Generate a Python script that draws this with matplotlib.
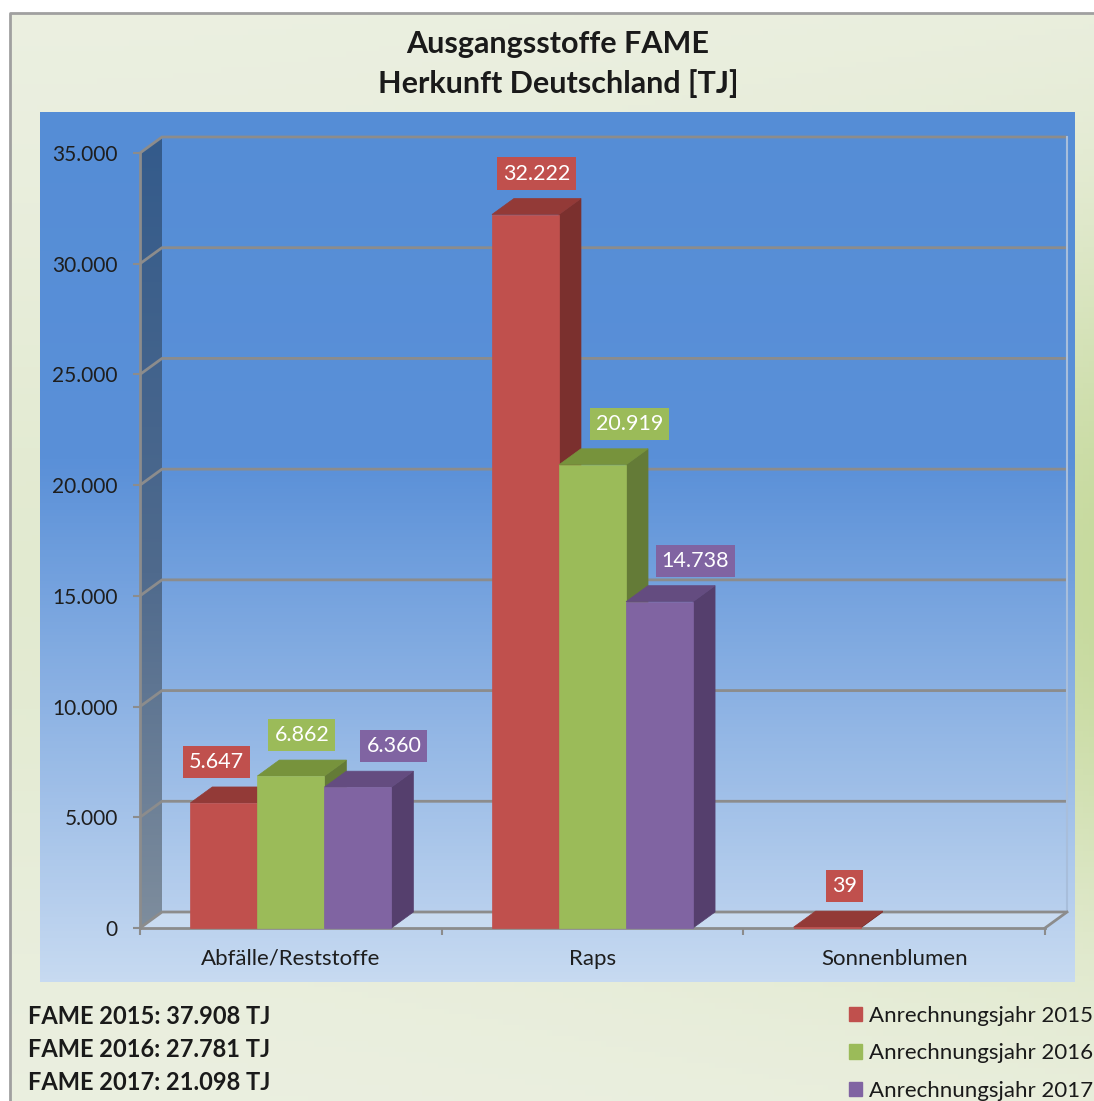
"""Ausgangsstoffe FAME, Herkunft Deutschland - 3D-style clustered columns."""
import matplotlib
matplotlib.use("Agg")
import matplotlib.pyplot as plt
import numpy as np
from matplotlib.colors import LinearSegmentedColormap
from matplotlib.patches import Polygon, Patch

plt.rcParams["font.family"] = ["Lato", "DejaVu Sans"]

CATEGORIES = ["Abfälle/Reststoffe", "Raps", "Sonnenblumen"]
YEARS = ["2015", "2016", "2017"]
V2015 = [5647, 32222, 39]
V2016 = [6862, 20919, None]
V2017 = [6360, 14738, None]
Y_TICKS = [0, 5000, 10000, 15000, 20000, 25000, 30000, 35000]
TITLE = "Ausgangsstoffe FAME\nHerkunft Deutschland [TJ]"

# front / side / top colour per series
FRONT = ["#c0504d", "#9bbb59", "#8064a2"]
SIDE = ["#7b302e", "#647b37", "#553f6d"]
TOP = ["#933a37", "#77933c", "#644c80"]
# horizontal nudge of the value boxes (px), as Excel placed them
LABEL_SHIFT = [[-18, 0, 6], [0, 26, 0], [25, 25, 0]]

GRID = "#8c8c8c"
W, H = 1094, 1101
DEPTH = (22, 16)  # px


def fmt(v):
    return f"{v:,}".replace(",", ".")


def fx(px):
    return px / W


def fy(py):
    return 1 - py / H


def vgrad(stops, n=256):
    cm = LinearSegmentedColormap.from_list("g", stops)
    return cm(np.linspace(0, 1, n))[:, None, :]


fig = plt.figure(figsize=(W / 100, H / 100), dpi=100)

# background layer in pixel coords
bg = fig.add_axes([0, 0, 1, 1])
bg.set_xlim(0, W)
bg.set_ylim(H, 0)
bg.axis("off")

# outer green panel
yy = np.linspace(0, 1, 200)[:, None]
xx = np.linspace(0, 1, 200)[None, :]
light = np.array([0.925, 0.94, 0.885])
green = np.array([0.78, 0.855, 0.62])
w = np.exp(-((yy - 0.52) / 0.32) ** 2) * (0.25 + 0.75 * xx ** 2)
img = light * (1 - w[..., None]) + green * w[..., None]
bg.imshow(img, extent=[10, W, H, 13], aspect="auto", zorder=0)
bg.plot([10, 10, W], [H, 13, 13], color="#a0a0a0", lw=2, zorder=1)

# blue plot area
bg.imshow(vgrad([(0, "#558dd6"), (0.40, "#5a90d8"), (1, "#c7daf1")]),
          extent=[40, 1075, 982, 112], aspect="auto", zorder=1)

# main axes = front plane of the 3D box
ax = fig.add_axes([fx(140), fy(928), 905 / W, 775 / H])
ax.patch.set_alpha(0)
ax.set_xlim(0, 3)
ax.set_ylim(0, 35000)
dx = DEPTH[0] * 3 / 905
dy = DEPTH[1] * 35000 / 775
ymax = Y_TICKS[-1]

# left wall with gradient
wall = Polygon([(0, 0), (0, ymax), (dx, ymax + dy), (dx, dy)],
               closed=True, transform=ax.transData, fc="none", ec="none")
ax.add_patch(wall)
im = ax.imshow(vgrad([(0, "#345b8b"), (0.55, "#4f6a8d"), (1, "#7e8d9d")]),
               extent=[0, dx, 0, ymax + dy], aspect="auto", zorder=1)
im.set_clip_box(fig.bbox)
im.set_clip_path(wall)

# floor
ax.add_patch(Polygon([(0, 0), (3, 0), (3 + dx, dy), (dx, dy)], closed=True,
                     fc="#c9dbf1", ec="none", zorder=1, clip_on=False))

# gridlines on back wall
for t in Y_TICKS:
    ax.plot([0, dx, 3 + dx], [t, t + dy, t + dy], color=GRID, lw=2,
            zorder=2, clip_on=False, solid_capstyle="butt")
ax.plot([3 + dx, 3 + dx], [dy, ymax + dy], color="#a8bedb", lw=1.5,
        zorder=2, clip_on=False)
ax.plot([3, 3 + dx], [0, dy], color=GRID, lw=2, zorder=2, clip_on=False)

for s in ["top", "right"]:
    ax.spines[s].set_visible(False)
for s in ["left", "bottom"]:
    ax.spines[s].set_color(GRID)
    ax.spines[s].set_linewidth(2)
    ax.spines[s].set_zorder(2)

ax.set_yticks(Y_TICKS, [fmt(t) for t in Y_TICKS])
ax.tick_params(axis="y", direction="out", length=5, width=1.5, color=GRID,
               pad=11, labelsize=15, labelcolor="#1e1e1e")
ax.set_xticks([0, 1, 2, 3], ["", "", "", ""])
ax.tick_params(axis="x", which="major", direction="out", length=5,
               width=1.5, color=GRID)
ax.set_xticks([0.5, 1.5, 2.5], CATEGORIES, minor=True)
ax.tick_params(axis="x", which="minor", length=0, pad=15, labelsize=16,
               labelcolor="#1e1e1e")

# bars
series = [V2015, V2016, V2017]
bw = 2 / 9
px_y = 35000 / 775
px_x = 3 / 905
for i in range(len(CATEGORIES)):
    for j, vals in enumerate(series):
        v = vals[i]
        if v is None:
            continue
        x0 = i + 1 / 6 + j * bw
        x1 = x0 + bw
        ax.add_patch(Polygon([(x1, 0), (x1 + dx, dy), (x1 + dx, v + dy), (x1, v)],
                             closed=True, fc=SIDE[j], ec=SIDE[j], lw=0.5,
                             zorder=3, clip_on=False))
        ax.add_patch(Polygon([(x0, v), (x1, v), (x1 + dx, v + dy), (x0 + dx, v + dy)],
                             closed=True, fc=TOP[j], ec=TOP[j], lw=0.5,
                             zorder=3, clip_on=False))
        ax.add_patch(Polygon([(x0, 0), (x1, 0), (x1, v), (x0, v)],
                             closed=True, fc=FRONT[j], ec=FRONT[j], lw=0.5,
                             zorder=3, clip_on=False))
        lx = (x0 + x1) / 2 + dx / 2 + LABEL_SHIFT[j][i] * px_x
        ly = v + dy + 25 * px_y
        ax.text(lx, ly, fmt(v), ha="center", va="center", fontsize=15.5,
                color="white", zorder=6, clip_on=False,
                bbox=dict(boxstyle="square,pad=0.28", fc=FRONT[j], ec="none"))

# title
fig.text(fx(558), fy(64), TITLE, ha="center", va="center", fontsize=22,
         fontweight="bold", color="#1a1a1a", linespacing=1.46)

# totals
for k, (yr, vals) in enumerate(zip(YEARS, series)):
    total = sum(v for v in vals if v is not None)
    fig.text(fx(28), fy(1017 + 32.5 * k), f"FAME {yr}: {fmt(total)} TJ",
             ha="left", va="center", fontsize=17, fontweight="bold",
             color="#1a1a1a")

# legend
handles = [Patch(color=c) for c in FRONT]
fig.legend(handles, [f"Anrechnungsjahr {y}" for y in YEARS],
           loc="upper left", bbox_to_anchor=(fx(849), fy(1006)),
           frameon=False, fontsize=16, handlelength=0.6, handleheight=0.6,
           handletextpad=0.3, labelspacing=0.78, borderaxespad=0,
           borderpad=0, labelcolor="#1a1a1a")

fig.savefig("out.png", dpi=100)
